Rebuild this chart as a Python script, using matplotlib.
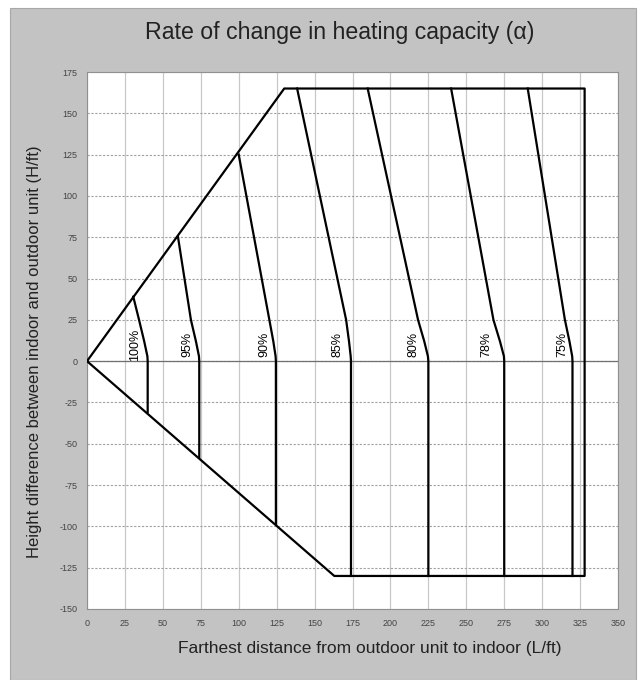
import matplotlib
matplotlib.use("Agg")
import matplotlib.pyplot as plt
from matplotlib.patches import Rectangle

# envelope of the allowed installation range
env_x = [0, 130, 328, 328, 163, 0]
env_y = [0, 165, 165, -130, -130, 0]

# one curve per capacity rate
labels = ['100%', '95%', '90%', '85%', '80%', '78%', '75%']
top_x = [30.5, 60, 100, 138.5, 185, 240, 290.5]
top_y = [39, 75, 125, 165, 165, 165, 165]
x_at25 = [34.3, 68.5, 120.2, 170.8, 218.2, 267.9, 315]
x_at12 = [37.7, 71.8, 122.8, 172.7, 222.3, 272.2, 318]
x_at3 = [39.8, 73.8, 124.3, 173.8, 224.7, 274.8, 319.8]
vert_x = [40, 74, 124.5, 174, 225, 275, 320]
bot_y = [-31, -58.5, -98.5, -130, -130, -130, -130]
label_x = [32, 66, 117, 165, 215, 263, 313]

xticks = list(range(0, 351, 25))
yticks = list(range(-150, 176, 25))

plt.rcParams['font.family'] = ['Liberation Sans', 'DejaVu Sans']
plt.rcParams['axes.unicode_minus'] = False

fig = plt.figure(figsize=(6.43, 6.8), dpi=100)
fig.patch.set_facecolor('white')
# grey chart-area frame (Excel style)
fig.patches.append(Rectangle((10/643, 0), 626/643, 672/680, transform=fig.transFigure,
                             facecolor='#c3c3c3', edgecolor='#a8a8a8', lw=0.8, zorder=-5))

ax = fig.add_axes([87/643, 1 - 609/680, 531/643, 537/680])
ax.set_facecolor('white')

ax.plot(env_x, env_y, color='black', lw=1.6, zorder=3)
for i in range(len(labels)):
    xs = [top_x[i], x_at25[i], x_at12[i], x_at3[i], vert_x[i], vert_x[i]]
    ys = [top_y[i], 25, 12, 3, 0, bot_y[i]]
    ax.plot(xs, ys, color='black', lw=1.6, zorder=3, solid_joinstyle='round')
    ax.text(label_x[i], 10, labels[i], rotation=90, ha='center', va='center',
            fontsize=9, color='black', zorder=4)

ax.axhline(0, color='#707070', lw=0.9, zorder=2)

ax.set_xlim(0, 350)
ax.set_ylim(-150, 175)
ax.set_xticks(xticks)
ax.set_yticks(yticks)
ax.grid(axis='x', color='#c8c8c8', lw=0.9, zorder=1)
ax.grid(axis='y', color='#a0a0a0', lw=0.8, ls=(0, (2, 1.5)), zorder=1)
ax.tick_params(length=0, pad=7, labelsize=6.5, labelcolor='#444444')
for s in ax.spines.values():
    s.set_color('#909090')
    s.set_linewidth(0.8)

fig.text(340/643, 1 - 33/680, 'Rate of change in heating capacity (α)', ha='center', va='center',
         fontsize=16.7, color='#222222')
fig.text(370/643, 1 - 648/680, 'Farthest distance from outdoor unit to indoor (L/ft)', ha='center',
         va='center', fontsize=12.5, color='#222222')
fig.text(35/643, 1 - 352/680, 'Height difference between indoor and outdoor unit (H/ft)', ha='center',
         va='center', rotation=90, fontsize=12, color='#222222')

fig.savefig('out.png', dpi=100, facecolor=fig.get_facecolor())
